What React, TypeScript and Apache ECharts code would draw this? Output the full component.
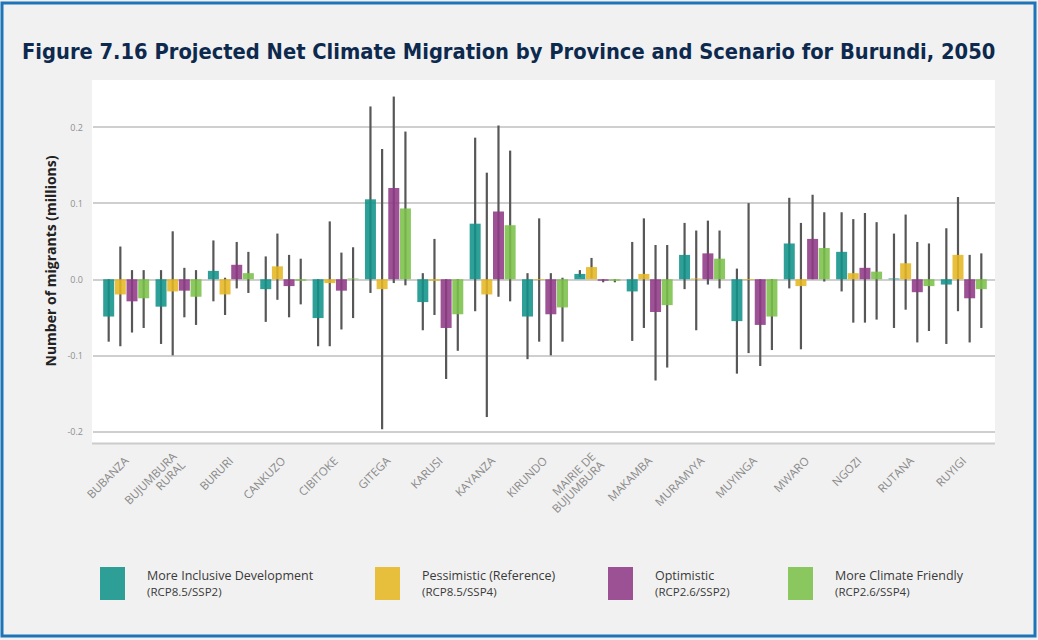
import React, { useEffect, useRef } from "react";
import * as echarts from "echarts";

const categories = [
  "BUBANZA", "BUJUMBURA\nRURAL", "BURURI", "CANKUZO", "CIBITOKE", "GITEGA", "KARUSI",
  "KAYANZA", "KIRUNDO", "MAIRIE DE\nBUJUMBURA", "MAKAMBA", "MURAMVYA", "MUYINGA",
  "MWARO", "NGOZI", "RUTANA", "RUYIGI",
];

const scenarioNames = [
  "More Inclusive Development",
  "Pessimistic (Reference)",
  "Optimistic",
  "More Climate Friendly",
];
const scenarioSubs = ["(RCP8.5/SSP2)", "(RCP8.5/SSP4)", "(RCP2.6/SSP2)", "(RCP2.6/SSP4)"];

const inclusiveValues = [-0.049, -0.036, 0.011, -0.013, -0.051, 0.105, -0.03, 0.073, -0.049, 0.007, -0.016, 0.032, -0.055, 0.047, 0.036, 0.001, -0.007];
const inclusiveLow = [-0.082, -0.085, -0.029, -0.056, -0.088, -0.018, -0.067, -0.042, -0.105, 0.003, -0.081, -0.013, -0.124, -0.012, -0.016, -0.064, -0.085];
const inclusiveHigh = [0.0, 0.012, 0.051, 0.03, 0.0, 0.227, 0.008, 0.186, 0.008, 0.012, 0.049, 0.074, 0.014, 0.107, 0.088, 0.06, 0.067];

const pessimisticValues = [-0.02, -0.016, -0.02, 0.017, -0.005, -0.013, -0.002, -0.02, -0.001, 0.016, 0.007, 0.001, -0.001, -0.009, 0.008, 0.021, 0.032];
const pessimisticLow = [-0.088, -0.1, -0.047, -0.027, -0.088, -0.197, -0.047, -0.181, -0.082, 0.001, -0.064, -0.067, -0.097, -0.092, -0.057, -0.04, -0.042];
const pessimisticHigh = [0.043, 0.063, 0.002, 0.06, 0.076, 0.171, 0.053, 0.14, 0.08, 0.028, 0.08, 0.064, 0.1, 0.074, 0.079, 0.085, 0.108];

const optimisticValues = [-0.029, -0.015, 0.019, -0.009, -0.015, 0.12, -0.064, 0.089, -0.046, -0.002, -0.043, 0.034, -0.06, 0.053, 0.015, -0.017, -0.025];
const optimisticLow = [-0.07, -0.05, -0.012, -0.05, -0.066, -0.005, -0.131, -0.023, -0.1, -0.004, -0.133, -0.007, -0.114, 0.0, -0.057, -0.083, -0.083];
const optimisticHigh = [0.012, 0.015, 0.049, 0.032, 0.035, 0.24, 0.0, 0.202, 0.008, 0.0, 0.045, 0.077, 0.0, 0.111, 0.087, 0.049, 0.032];

const friendlyValues = [-0.025, -0.023, 0.008, -0.002, 0.001, 0.093, -0.046, 0.071, -0.037, -0.002, -0.034, 0.027, -0.049, 0.041, 0.01, -0.009, -0.013];
const friendlyLow = [-0.064, -0.06, -0.018, -0.033, -0.051, -0.008, -0.094, -0.029, -0.082, -0.004, -0.116, -0.012, -0.093, -0.003, -0.053, -0.068, -0.064];
const friendlyHigh = [0.012, 0.012, 0.036, 0.027, 0.042, 0.194, 0.0, 0.169, 0.002, 0.0, 0.045, 0.064, 0.0, 0.088, 0.075, 0.047, 0.034];

const yTicks = [-0.2, -0.1, 0.0, 0.1, 0.2];

const seriesValues = [inclusiveValues, pessimisticValues, optimisticValues, friendlyValues];
const seriesLow = [inclusiveLow, pessimisticLow, optimisticLow, friendlyLow];
const seriesHigh = [inclusiveHigh, pessimisticHigh, optimisticHigh, friendlyHigh];

const COLORS = ["#12938a", "#e5b722", "#8f3a87", "#7bc24a"];
const BAR_W = 11;
const BAR_GAP = 0.06;
const LEGEND_X = [100, 375, 608, 788];

export default function App() {
  const ref = useRef<HTMLDivElement>(null);

  useEffect(() => {
    if (!ref.current) return;
    const chart = echarts.init(ref.current, undefined, { renderer: "svg" });

    const step = BAR_W * (1 + BAR_GAP);
    const total = 4 * BAR_W + 3 * BAR_W * BAR_GAP;

    const barSeries = scenarioNames.map((name, i) => ({
      name,
      type: "bar",
      xAxisIndex: 0,
      yAxisIndex: 0,
      barWidth: BAR_W,
      barGap: `${BAR_GAP * 100}%`,
      data: seriesValues[i],
      itemStyle: { color: COLORS[i], opacity: 0.88 },
      z: 3,
    }));

    const errSeries = scenarioNames.map((name, i) => {
      const offset = -total / 2 + BAR_W / 2 + i * step;
      return {
        name: name + " range",
        type: "custom",
        xAxisIndex: 0,
        yAxisIndex: 0,
        z: 2,
        clip: false,
        encode: { x: 0, y: [1, 2] },
        data: categories.map((_, k) => [k, seriesLow[i][k], seriesHigh[i][k]]),
        renderItem: (params: any, api: any) => {
          const k = api.value(0);
          const top = api.coord([k, api.value(2)]);
          const bot = api.coord([k, api.value(1)]);
          const x = top[0] + offset;
          return {
            type: "line",
            shape: { x1: x, y1: top[1], x2: x, y2: bot[1] },
            style: { stroke: "#575757", lineWidth: 2.2 },
          };
        },
      };
    });

    const option: any = {
      animation: false,
      backgroundColor: "#f1f1f1",
      title: {
        text: "Figure 7.16 Projected Net Climate Migration by Province and Scenario for Burundi, 2050",
        left: 17,
        top: 35,
        textStyle: {
          fontFamily: "'DejaVu Sans Condensed', 'Liberation Sans Narrow', sans-serif",
          fontWeight: 900,
          fontSize: 21.7,
          color: "#0d2a4e",
        },
      },
      legend: scenarioNames.map((name, i) => ({
        data: [name],
        left: LEGEND_X[i],
        top: 567,
        padding: 0,
        icon: "rect",
        itemWidth: 25,
        itemHeight: 33,
        selectedMode: false,
        formatter: () => `{a|${scenarioNames[i]}}\n{b|${scenarioSubs[i]}}`,
        textStyle: {
          fontFamily: "'Open Sans', sans-serif",
          color: "#3a3a3a",
          padding: [0, 0, 0, 17],
          rich: {
            a: { fontFamily: "'Open Sans', sans-serif", fontSize: 12.5, lineHeight: 16, color: "#3a3a3a" },
            b: { fontFamily: "'Open Sans', sans-serif", fontSize: 11.5, lineHeight: 16, color: "#3a3a3a" },
          },
        },
      })),
      grid: [
        { left: 100, right: 48, top: 127, bottom: 208.5 },
        { left: 93, right: 43, top: 127, bottom: 208.5 },
      ],
      xAxis: [
        {
          type: "category",
          gridIndex: 0,
          data: categories,
          axisLine: { show: false },
          axisTick: { show: false },
          axisLabel: {
            interval: 0,
            rotate: 45,
            margin: 27,
            fontFamily: "'Open Sans', sans-serif",
            fontSize: 11.5,
            lineHeight: 12,
            color: "#8a8a8a",
          },
        },
        { type: "value", gridIndex: 1, show: false, min: 0, max: 1 },
      ],
      yAxis: [
        {
          type: "value",
          gridIndex: 0,
          min: yTicks[0],
          max: yTicks[yTicks.length - 1],
          interval: 0.1,
          splitLine: { show: false },
          axisLine: { show: false },
          axisTick: { show: false },
          axisLabel: {
            margin: 17,
            fontFamily: "'Open Sans', sans-serif",
            fontSize: 9,
            color: "#8f8f8f",
            formatter: (v: number) => v.toFixed(1),
          },
        },
        {
          type: "value",
          gridIndex: 1,
          min: yTicks[0],
          max: yTicks[yTicks.length - 1],
          interval: 0.1,
          axisLine: { show: false },
          axisTick: { show: false },
          axisLabel: { show: false },
          splitLine: { show: true, lineStyle: { color: "#cfcfcf", width: 2 } },
        },
      ],
      graphic: [
        {
          type: "rect",
          z: -10,
          shape: { x: 2, y: 3, width: 1033, height: 633 },
          style: { fill: "#f1f1f1", stroke: "#1d74b8", lineWidth: 3 },
        },
        {
          type: "rect",
          z: -9,
          shape: { x: 92, y: 80, width: 903, height: 363 },
          style: { fill: "#ffffff" },
        },
        {
          type: "line",
          z: -8,
          shape: { x1: 92, y1: 443.5, x2: 995, y2: 443.5 },
          style: { stroke: "#cccccc", lineWidth: 2 },
        },
        {
          type: "text",
          x: 50,
          y: 261,
          rotation: Math.PI / 2,
          style: {
            text: "Number of migrants (millions)",
            fontFamily: "'Open Sans', sans-serif",
            fontWeight: "bold",
            fontSize: 14,
            fill: "#222222",
            align: "center",
            verticalAlign: "middle",
          },
        },
      ],
      series: [...errSeries, ...barSeries],
    };

    chart.setOption(option);
    return () => chart.dispose();
  }, []);

  return (
    <div
      ref={ref}
      style={{ position: "fixed", left: 0, top: 0, width: 1038, height: 640 }}
    />
  );
}
